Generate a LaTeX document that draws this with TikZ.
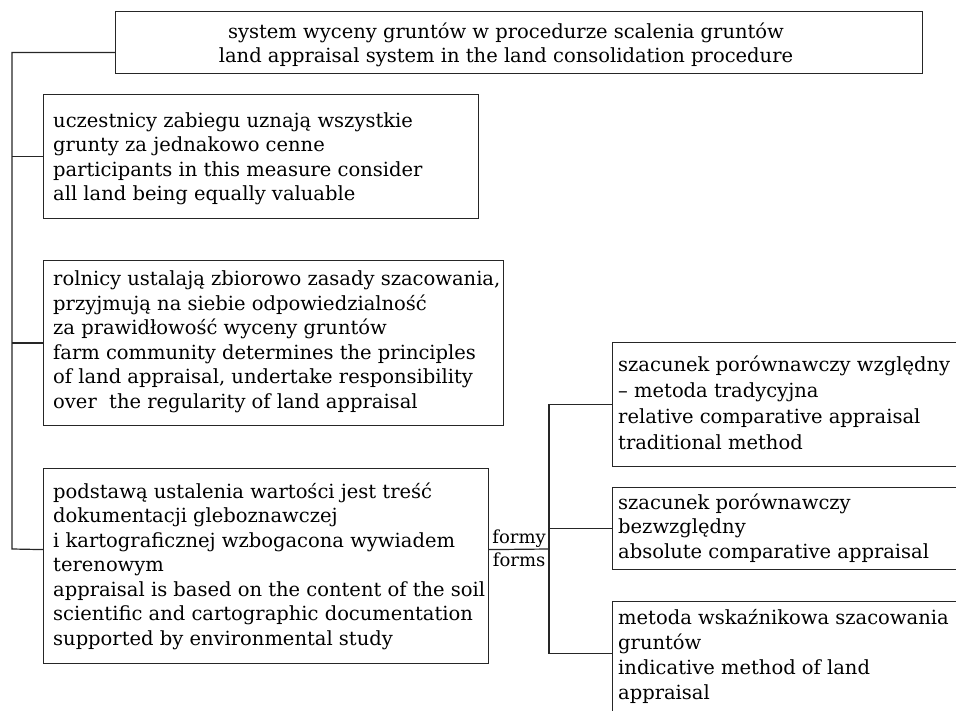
\documentclass[tikz,border=0pt]{standalone}
\usepackage{fontspec}
\setmainfont{DejaVu Serif}
\begin{document}
\begin{tikzpicture}[x=1pt,y=-1pt,
  box/.style={draw=black!85, line width=1.2pt, inner sep=0pt, anchor=north west},
  txt/.style={inner sep=0pt, align=left, anchor=base west, text=black, font=\fontsize{19.5}{24.5}\selectfont},
  rtxt/.style={txt, font=\fontsize{19.5}{26}\selectfont},
  lbl/.style={inner sep=0pt, anchor=base, text=black, font=\fontsize{18}{20}\selectfont},
  conn/.style={draw=black!85, line width=1.2pt}]
\useasboundingbox (0,0) rectangle (956,711);

% boxes
\node[box, minimum width=807, minimum height=62] (top) at (115,11) {};
\node[box, minimum width=435, minimum height=124] (b2) at (43,94) {};
\node[box, minimum width=460, minimum height=165] (b3) at (43,260) {};
\node[box, minimum width=445, minimum height=195] (b4) at (43,468) {};
\node[box, minimum width=360, minimum height=124] (b5) at (612,342) {};
\node[box, minimum width=360, minimum height=82] (b6) at (612,487) {};
\node[box, minimum width=360, minimum height=130] (b7) at (612,601) {};

% texts (anchor base = baseline of the last line)
\node[txt, align=center, anchor=base] (t1) at (506,63) {system wyceny gruntów w procedurze scalenia gruntów\\land appraisal system in the land consolidation procedure};
\node[txt] (t2) at (53,201) {uczestnicy zabiegu uznają wszystkie\\grunty za jednakowo cenne\\participants in this measure consider\\all land being equally valuable};
\node[txt] (t3) at (53,408) {rolnicy ustalają zbiorowo zasady szacowania,\\przyjmują na siebie odpowiedzialność\\za prawidłowość wyceny gruntów\\farm community determines the principles\\of land appraisal, undertake responsibility\\over\ \ the regularity of land appraisal};
\node[txt] (t4) at (53,645) {podstawą ustalenia wartości jest treść\\dokumentacji gleboznawczej\\i kartograficznej wzbogacona wywiadem\\terenowym\\appraisal is based on the content of the soil\\scientific and cartographic documentation\\supported by environmental study};
\node[rtxt] (t5) at (618,449) {szacunek porównawczy względny\\– metoda tradycyjna\\relative comparative appraisal\\traditional method};
\node[txt] (t6) at (618,558) {szacunek porównawczy\\bezwzględny\\absolute comparative appraisal};
\node[txt, font=\fontsize{19.5}{25}\selectfont] (t7) at (618,699) {metoda wskaźnikowa szacowania\\gruntów\\indicative method of land\\appraisal};

% connectors
\coordinate (trunkb) at (12,549);
\coordinate (fork) at (549,549);
\draw[conn] ([yshift=-10pt]top.west) -| (trunkb) -- ([yshift=16.5pt]b4.west);
\draw[conn] (b2.west) -- (b2.west -| trunkb);
\draw[conn] (b3.west) -- (b3.west -| trunkb);
\draw[conn] ([yshift=16.5pt]b4.east) -- (fork)
  node[midway, lbl, yshift=6pt] (formy) {formy}
  node[midway, lbl, yshift=-17pt] (forms) {forms};
\draw[conn] (b5.west) -| (fork) |- ([yshift=13pt]b7.west);
\draw[conn] (b6.west) -- (b6.west -| fork);
\end{tikzpicture}
\end{document}
